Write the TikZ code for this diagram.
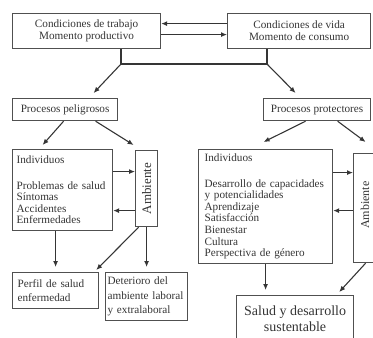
\documentclass[tikz,border=0pt]{standalone}
\usepackage{fontspec}
\setmainfont{Liberation Serif}
\usetikzlibrary{arrows.meta}
\definecolor{ink}{HTML}{353535}
\definecolor{edge}{HTML}{505050}
\begin{document}
\begin{tikzpicture}[x=1pt,y=-1pt,
  box/.style={draw=edge,line width=1.2pt,inner sep=0pt,text=ink,fill=white,anchor=north west},
  f/.style={font=\fontsize{11.2}{11.6}\selectfont},
  ftop/.style={font=\fontsize{11.2}{12}\selectfont},
  fb/.style={font=\fontsize{11.2}{14.5}\selectfont},
  fbig/.style={font=\fontsize{14}{16}\selectfont},
  famb/.style={font=\fontsize{13}{14}\selectfont},
  arr/.style={draw=ink,line width=1.1pt,-{Latex[length=6pt,width=5pt]}},
  ln/.style={draw=ink,line width=1.1pt}]
\useasboundingbox (0,0) rectangle (373,338);
\clip (0,0) rectangle (373,338);

% top boxes
\node[box,ftop,align=center,minimum width=148,minimum height=35] (ct) at (12,13) {Condiciones de trabajo\\Momento productivo};
\node[box,ftop,align=center,minimum width=143,minimum height=35] (cv) at (227,13) {Condiciones de vida\\Momento de consumo};
\draw[arr] ([yshift=7.5pt]cv.west) -- ([yshift=7.5pt]cv.west -| ct.east);
\draw[arr] ([yshift=-3.5pt]ct.east) -- ([yshift=-3.5pt]ct.east -| cv.west);

% processes
\node[box,f,minimum width=105,minimum height=22] (pp) at (12,98) {Procesos peligrosos};
\node[box,f,minimum width=107,minimum height=22] (pr) at (263,98) {Procesos protectores};

\coordinate (j1) at (121,64);
\coordinate (j2) at (267,64);
\draw[ln] (ct.south -| j1) -- (j1) -- (j2) -- (cv.south -| j2);
\draw[arr] (j1) -- ([xshift=28.5pt,yshift=5pt]pp.north);
\draw[arr] (j2) -- ([xshift=-21.5pt,yshift=5pt]pr.north);

% left middle
\node[box,f,align=left,text width=92,inner xsep=4pt,minimum height=81] (i1) at (12,149)
  {Individuos\\[13.7pt]\mbox{Problemas de salud}\\Síntomas\\Accidentes\\Enfermedades};
\node[box,minimum width=22,minimum height=76] (a1) at (135,150) {};
\node[famb,text=ink,rotate=90] (a1t) at (a1.center) {Ambiente};

\draw[arr] ([xshift=-1.5pt]pp.south) -- ([xshift=-20pt,yshift=4pt]i1.north);
\draw[arr] ([xshift=30.5pt]pp.south) -- ([xshift=-13pt,yshift=5pt]a1.north);

\path ([yshift=18.5pt]i1.east) coordinate (p1);
\path ([yshift=-20.5pt]i1.east) coordinate (p2);
\draw[arr] (p1) -- (p1 -| a1.west);
\draw[arr] (p2 -| a1.west) -- (p2);

% right middle
\node[box,f,align=left,text width=122,inner xsep=6pt,minimum height=114] (i2) at (198,149)
  {Individuos\\[13.7pt]\mbox{Desarrollo de capacidades}\\y potencialidades\\Aprendizaje\\Satisfacción\\Bienestar\\Cultura\\Perspectiva de género};
\node[box,minimum width=28,minimum height=109] (a2) at (353,153) {};
\node[font=\fontsize{12}{13}\selectfont,text=ink,rotate=90,inner sep=1pt] (a2t) at ([xshift=-2.5pt,yshift=3pt]a2.center) {Ambiente};

\draw[arr] ([xshift=-11.5pt]pr.south) -- ([xshift=-2pt,yshift=7pt]i2.north);
\draw[arr] ([xshift=20.5pt]pr.south) -- ([xshift=-2pt,yshift=11pt]a2.north);

\path ([yshift=34pt]i2.east) coordinate (p3);
\path ([yshift=-4pt]i2.east) coordinate (p4);
\draw[arr] (p3) -- (p3 -| a2.west);
\draw[arr] (p4 -| a2.west) -- (p4);

% bottom left
\node[box,fb,align=left,text width=76,inner xsep=5pt,minimum height=36] (pf) at (12,272)
  {Perfil de salud\\enfermedad};
\node[box,fb,align=left,text width=78,inner xsep=2pt,minimum height=48] (dt) at (105,272)
  {Deterioro del\\\mbox{ambiente laboral}\\y extralaboral};

\path ([xshift=-7pt]i1.south) coordinate (q1);
\path (q1 |- pf.north) coordinate (q1e);
\draw[arr] (q1) -- ([yshift=5pt]q1e);
\draw[arr] ([xshift=-8pt]a1.south) -- ([xshift=-3pt,yshift=2pt]pf.north east);
\draw[arr] (a1.south) -- ([yshift=5pt]a1.south |- dt.north);

% bottom right
\node[box,fbig,align=center,minimum width=117,minimum height=46] (sd) at (236,295)
  {Salud y desarrollo\\sustentable};
\draw[arr] (i2.south) -- ([yshift=5pt]i2.south |- sd.north);
\draw[arr] ([xshift=-2pt]a2.south) -- ([xshift=-15pt,yshift=3pt]sd.north east);
\end{tikzpicture}
\end{document}
